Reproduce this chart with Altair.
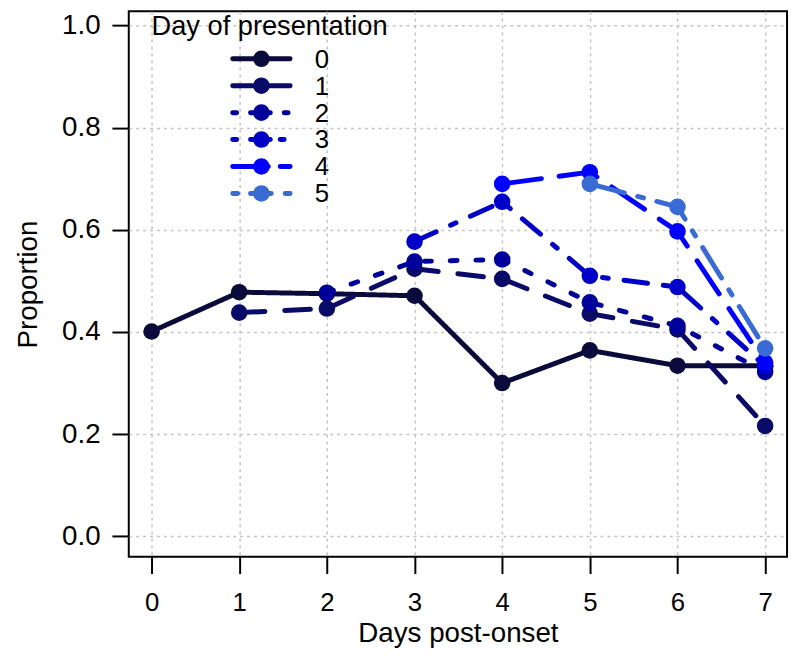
import altair as alt
import pandas as pd

# ---- data ----
days = [0, 1, 2, 3, 4, 5, 6, 7]
series_labels = ["0", "1", "2", "3", "4", "5"]
series_0 = [0.401, 0.478, 0.475, 0.471, 0.300, 0.364, 0.334, 0.334]
series_1 = [None, 0.438, 0.446, 0.524, 0.504, 0.436, 0.405, 0.216]
series_2 = [None, None, 0.477, 0.538, 0.542, 0.458, 0.412, 0.322]
series_3 = [None, None, None, 0.577, 0.655, 0.510, 0.488, 0.333]
series_4 = [None, None, None, None, 0.690, 0.713, 0.597, 0.340]
series_5 = [None, None, None, None, None, 0.690, 0.645, 0.368]
all_series = [series_0, series_1, series_2, series_3, series_4, series_5]

x_ticks = [0, 1, 2, 3, 4, 5, 6, 7]
y_ticks = [0.0, 0.2, 0.4, 0.6, 0.8, 1.0]

# ---- styles ----
colors = ["#0b0b3b", "#0a0a68", "#00009a", "#0000c8", "#0000ff", "#3a6bd4"]
dashes = [[1, 0], [26, 20], [7, 19], [24, 16, 6, 16], [40, 18], [36, 14, 6, 14]]
legend_dashes = [[1, 0], [1, 0], [4, 14, 20, 14], [4, 14, 20, 10], [36, 12], [5, 13, 21, 14]]
FONT = "Liberation Sans"
LW = 5
MSIZE = 280

xscale = alt.Scale(domain=[-0.26, 7.25], nice=False, zero=False)
yscale = alt.Scale(domain=[-0.04, 1.028], nice=False, zero=False)

x_axis = alt.Axis(values=x_ticks, title="Days post-onset", format="d",
                  labelFontSize=26, titleFontSize=28, labelPadding=16, titlePadding=5)
y_axis = alt.Axis(values=y_ticks, title="Proportion", format=".1f",
                  labelFontSize=28, titleFontSize=28, labelPadding=12, titlePadding=19)

layers = []
for i, vals in enumerate(all_series):
    df = pd.DataFrame({"day": days, "value": vals}).dropna()
    enc = dict(
        x=alt.X("day:Q", scale=xscale, axis=x_axis),
        y=alt.Y("value:Q", scale=yscale, axis=y_axis),
    )
    base = alt.Chart(df)
    line = base.mark_line(strokeWidth=LW, strokeCap="round", strokeJoin="round",
                          color=colors[i], strokeDash=dashes[i]).encode(**enc)
    pts = base.mark_circle(size=MSIZE, opacity=1, color=colors[i]).encode(**enc)
    layers += [line, pts]

# ---- legend drawn by hand (top-left inside the plot) ----
title_df = pd.DataFrame({"t": ["Day of presentation"]})
layers.append(
    alt.Chart(title_df).mark_text(align="left", baseline="alphabetic", fontSize=27.5,
                                  font=FONT, color="black")
    .encode(x=alt.value(23), y=alt.value(24), text="t:N")
)
row0, step = 48, 27.2
for i, lab in enumerate(series_labels):
    ldf = pd.DataFrame({"label": [lab]})
    yy = row0 + step * i
    b = alt.Chart(ldf)
    layers.append(
        b.mark_rule(strokeWidth=LW, strokeCap="round", color=colors[i],
                    strokeDash=legend_dashes[i])
        .encode(x=alt.value(105), x2=alt.value(163), y=alt.value(yy))
    )
    layers.append(
        b.mark_circle(size=MSIZE, opacity=1, color=colors[i])
        .encode(x=alt.value(134), y=alt.value(yy))
    )
    layers.append(
        b.mark_text(align="left", baseline="middle", fontSize=26, font=FONT, color="black")
        .encode(x=alt.value(188), y=alt.value(yy + 1), text="label:N")
    )

chart = (
    alt.layer(*layers)
    .properties(width=665, height=551,
                autosize=alt.AutoSizeParams(type="none"),
                padding={"left": 122, "top": 0, "right": 5, "bottom": 100})
    .configure(font=FONT)
    .configure_view(stroke="black", strokeWidth=2)
    .configure_axis(
        domain=False, grid=True, gridColor="#c4c4c4", gridDash=[3, 4], gridWidth=1.5,
        ticks=True, tickSize=17, tickWidth=2, tickColor="black",
        labelColor="black", titleColor="black", labelFont=FONT, titleFont=FONT,
        titleFontWeight="normal",
    )
)

chart.save("out.html", embed_options={"renderer": "svg", "actions": False})
